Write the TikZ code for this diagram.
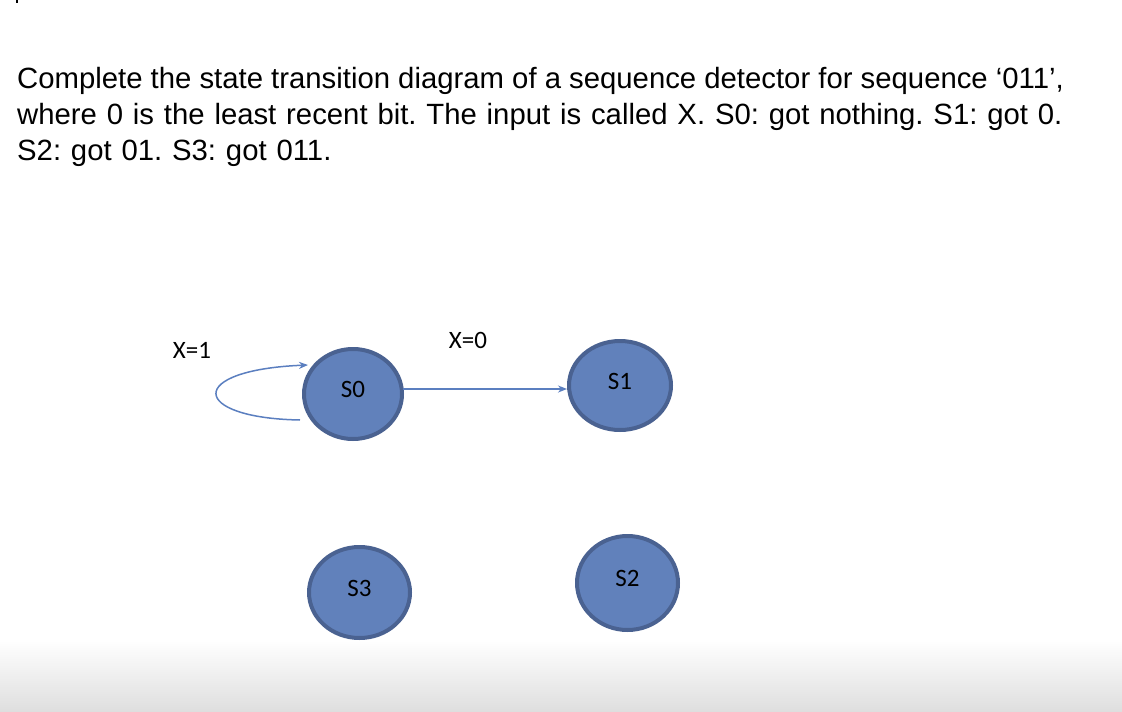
\documentclass[tikz,border=0pt]{standalone}
\usepackage{fontspec}
\setmainfont{Liberation Sans}
\newfontfamily\calib{Carlito}
\usetikzlibrary{shapes.geometric,arrows.meta,calc}
\definecolor{fillc}{HTML}{6181BB}
\definecolor{strokec}{HTML}{4A6291}
\definecolor{edgec}{HTML}{5B7FC0}
\definecolor{shadec}{HTML}{DEDEDE}
\frenchspacing
\newcommand\widesp{\spaceskip=\dimexpr\fontdimen2\font+1.7pt\relax}
\begin{document}
\begin{tikzpicture}[x=1pt,y=-1pt,
  stateb/.style={ellipse, draw=strokec, fill=fillc, line width=4pt, inner sep=0pt,
                 font=\calib\fontsize{25}{29}\selectfont, text depth=9pt},
  edge/.style={draw=edgec, line width=1.5pt, -{Stealth[length=9pt,width=7pt]}},
  lbl/.style={font=\calib\fontsize{25}{29}\selectfont, inner sep=0pt},
  title/.style={font=\fontsize{29.3}{36}\selectfont, anchor=base west, inner sep=0pt}]
\useasboundingbox (0,0) rectangle (1122,712);
\fill[white] (0,0) rectangle (1122,712);
\shade[top color=white, bottom color=shadec] (0,640) rectangle (1122,712);
\fill[black] (16,0) rectangle (17.5,2.5);
% title
\node[title] (t1) at (17,88) {Complete the state transition diagram of a sequence detector for sequence ‘011’,};
\node[title] (t2) at (17,124) {\widesp where 0 is the least recent bit. The input is called X. S0: got nothing. S1: got 0.};
\node[title] (t3) at (17,160) {\widesp S2: got 01. S3: got 011.};
% states
\node[stateb, minimum width=98pt, minimum height=90pt] (S0) at (353,394) {S0};
\node[stateb, minimum width=102pt, minimum height=89pt] (S1) at (620,385.5) {S1};
\node[stateb, minimum width=101pt, minimum height=91pt] (S3) at (359.5,592.5) {S3};
\node[stateb, minimum width=101pt, minimum height=94pt] (S2) at (627.5,583) {S2};
% labels
\node[lbl] (x1) at (192,350) {X=1};
\node[lbl] (x0) at (468,340) {X=0};
% edges
\coordinate (a) at ($(S0.center)+(50,-5)$);
\draw[edge] (a) -- (a -| S1.west);
\coordinate (l1) at ($(S0.center)+(-53,26)$);
\coordinate (l2) at ($(S0.center)+(-45,-29)$);
\draw[edge] (l1) .. controls ($(S0.center)+(-163,24)$) and ($(S0.center)+(-168,-24)$) .. (l2);
\end{tikzpicture}
\end{document}
